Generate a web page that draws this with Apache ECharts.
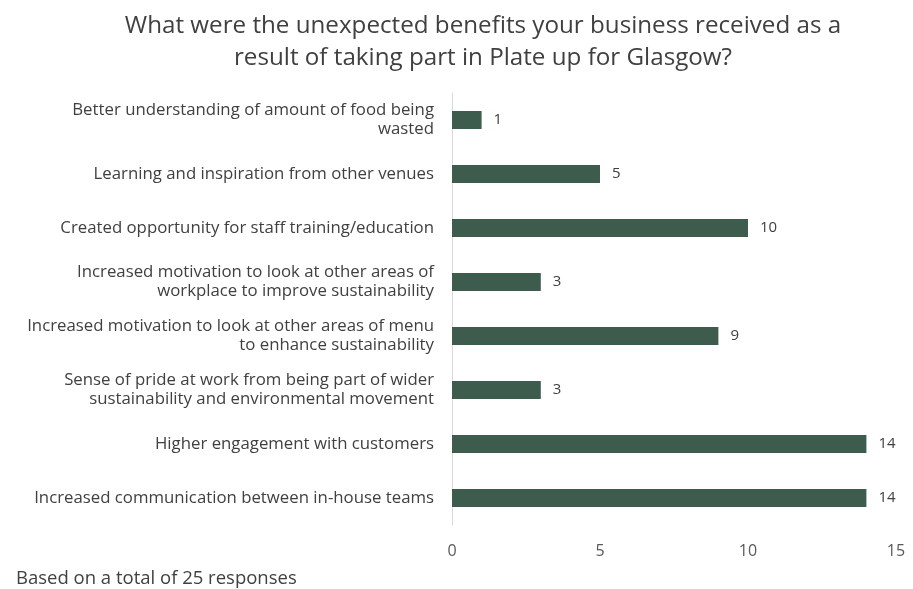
<!DOCTYPE html>
<html><head><meta charset="utf-8">
<script src="https://cdn.jsdelivr.net/npm/echarts@6/dist/echarts.min.js"></script>
<style>html,body{margin:0;padding:0;background:#fff}#c{width:913px;height:589px}</style>
</head><body><div id="c"></div>
<script>
const titleText = 'What were the unexpected benefits your business received as a\nresult of taking part in Plate up for Glasgow?';
const footnote = 'Based on a total of 25 responses';
const categories = [
  'Better understanding of amount of food being\nwasted',
  'Learning and inspiration from other venues',
  'Created opportunity for staff training/education',
  'Increased motivation to look at other areas of\nworkplace to improve sustainability',
  'Increased motivation to look at other areas of menu\nto enhance sustainability',
  'Sense of pride at work from being part of wider\nsustainability and environmental movement',
  'Higher engagement with customers',
  'Increased communication between in-house teams'
];
const values = [1, 5, 10, 3, 9, 3, 14, 14];
const xTicks = [0, 5, 10, 15];

const chart = echarts.init(document.getElementById('c'));
const font = '"Open Sans", sans-serif';
chart.setOption({
  animation: false,
  title: [{
    text: titleText, left: 478, top: 5, textAlign: 'center',
    textStyle: {fontFamily: font, fontSize: 24.2, fontWeight: 'normal', color: '#404040', lineHeight: 32, align: 'center'}
  }, {
    text: footnote, left: 11, top: 564,
    textStyle: {fontFamily: font, fontSize: 18.5, fontWeight: 'normal', color: '#404040'}
  }],
  grid: {left: 452, right: 17, top: 93, bottom: 64},
  xAxis: {
    type: 'value', min: xTicks[0], max: xTicks[xTicks.length - 1], interval: 5,
    axisLine: {show: false}, axisTick: {show: false}, splitLine: {show: false},
    axisLabel: {fontFamily: font, fontSize: 16, color: '#595959', margin: 18}
  },
  yAxis: {
    type: 'category', data: categories, inverse: true,
    axisLine: {show: true, lineStyle: {color: '#d9d9d9', width: 1}},
    axisTick: {show: false},
    axisLabel: {fontFamily: font, fontSize: 16.8, color: '#404040', margin: 18, lineHeight: 19, align: 'right'}
  },
  series: [{
    type: 'bar', data: values, barWidth: 18,
    itemStyle: {color: '#3e5c4d'},
    label: {show: true, position: 'right', distance: 12, fontFamily: font, fontSize: 15, color: '#404040'}
  }]
});
</script></body></html>
